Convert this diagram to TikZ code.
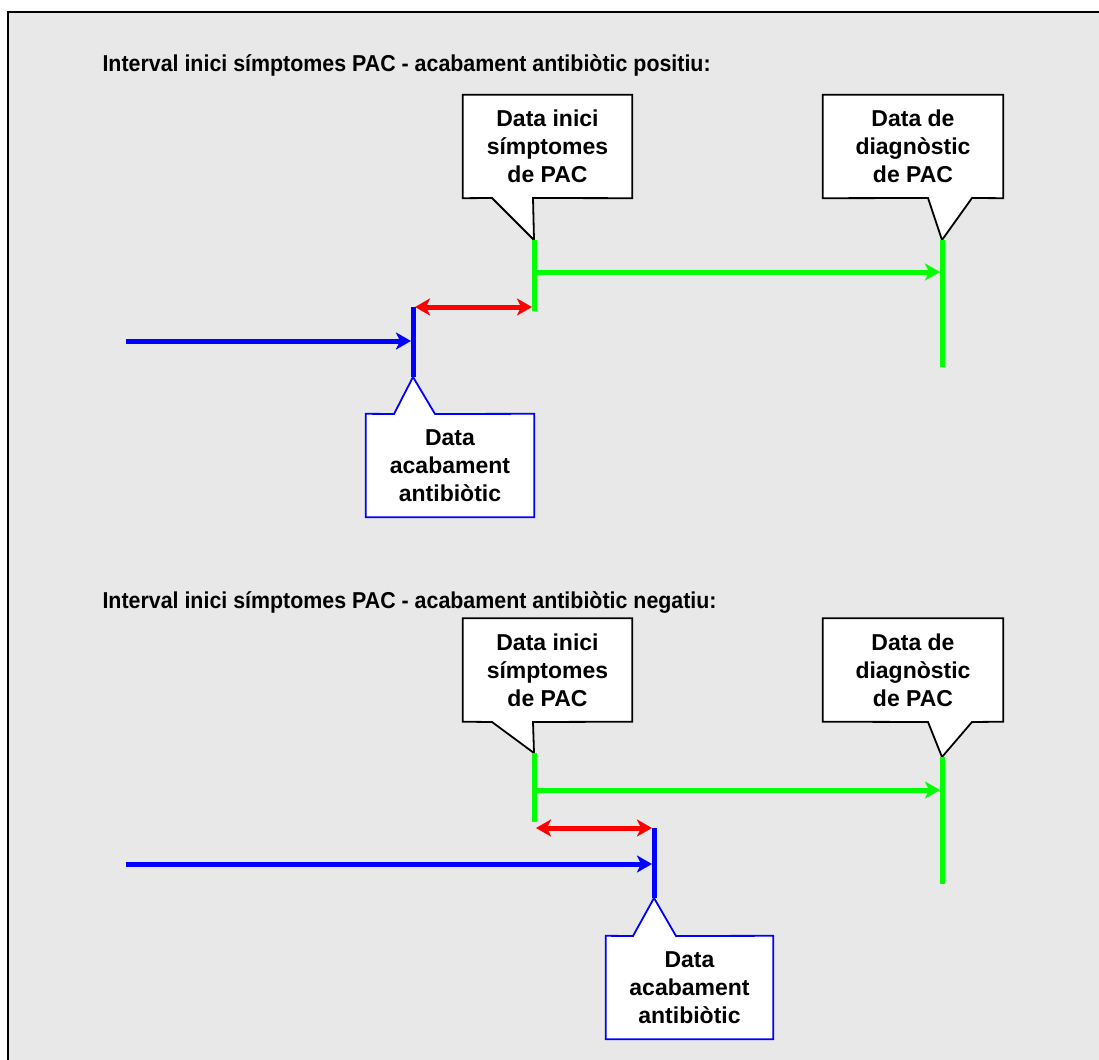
\documentclass[tikz,border=0pt]{standalone}
\usepackage{fontspec}
\setmainfont{Liberation Sans}
\newfontfamily\headfont{Liberation Sans}[FakeStretch=0.93]
\usetikzlibrary{arrows.meta}

\definecolor{panelgray}{RGB}{232,232,232}
\definecolor{datagreen}{RGB}{0,255,0}
\definecolor{datablue}{RGB}{0,0,255}
\definecolor{datared}{RGB}{255,0,0}

\tikzset{
  timeline/.style={line width=5pt},
  arrowend/.style={-{Stealth[length=15pt,width=17pt,inset=4pt]}},
  gapline/.style={datared, line width=5pt,
    {Stealth[length=15pt,width=17pt,inset=4pt]}-{Stealth[length=15pt,width=17pt,inset=4pt]}},
  datebox/.style={fill=white, inner sep=0pt, minimum height=103pt, align=center},
  boxline/.style={line width=1.8pt, line join=miter},
  heading/.style={anchor=base west, font=\headfont\bfseries\fontsize{23}{28}\selectfont},
}

\begin{document}
\begin{tikzpicture}[x=1pt, y=-1pt,
  every node/.style={font=\bfseries\fontsize{23}{28}\selectfont}]
\useasboundingbox (0,0) rectangle (1099,1059);
\clip (0,0) rectangle (1099,1059);
\draw[line width=2.2pt, fill=panelgray] (8,12) rectangle (1120,1080);

% ---- positiu ----
\node[heading] (tit1) at (99,72) {Interval inici símptomes PAC - acabament antibiòtic positiu:};

\coordinate (ini1top) at (534,240);
\coordinate (ini1bot) at (534,311);
\coordinate (ini1mid) at (534,272);
\coordinate (dia1top) at (942,240);
\coordinate (dia1bot) at (942,367);
\coordinate (dia1mid) at (942,272);
\coordinate (ab1top) at (413,307);
\coordinate (ab1bot) at (413,377);
\coordinate (ab1mid) at (413,341);
\coordinate (ab1start) at (126,341);

\node[datebox, minimum width=169pt] (ini1) at (547.5,146.5) {Data inici\\símptomes\\de PAC};
\fill[white] (492,198) -- (ini1top) -- (533,198) -- cycle;
\draw[boxline] (ini1.south west) -- (492,198) -- (ini1top) -- (533,198) -- (ini1.south east)
  -- (ini1.north east) -- (ini1.north west) -- cycle;

\node[datebox, minimum width=180pt] (dia1) at (913,146.5) {Data de\\diagnòstic\\de PAC};
\fill[white] (928,198) -- (dia1top) -- (972,198) -- cycle;
\draw[boxline] (dia1.south west) -- (928,198) -- (dia1top) -- (972,198) -- (dia1.south east)
  -- (dia1.north east) -- (dia1.north west) -- cycle;

\node[datebox, minimum width=168pt] (ab1) at (450,465.5) {Data\\acabament\\antibiòtic};
\fill[white] (394,414) -- (ab1bot) -- (435,414) -- cycle;
\draw[boxline, datablue] (ab1.north west) -- (394,414) -- (ab1bot) -- (435,414) -- (ab1.north east)
  -- (ab1.south east) -- (ab1.south west) -- cycle;

\draw[timeline, datagreen] (ini1top) -- (ini1bot);
\draw[timeline, datagreen] (dia1top) -- (dia1bot);
\draw[timeline, datagreen, arrowend] (ini1mid) -- ([xshift=-2pt]dia1mid);
\draw[timeline, datablue] (ab1top) -- (ab1bot);
\draw[timeline, datablue, arrowend] (ab1start) -- ([xshift=-2pt]ab1mid);
\draw[gapline] ([xshift=2pt]ab1top) -- ([xshift=-2pt]ini1top |- ab1top);

% ---- negatiu ----
\node[heading] (tit2) at (99,608) {Interval inici símptomes PAC - acabament antibiòtic negatiu:};

\coordinate (ini2top) at (534,753);
\coordinate (ini2bot) at (534,822);
\coordinate (ini2mid) at (534,790);
\coordinate (dia2top) at (942,757);
\coordinate (dia2bot) at (942,884);
\coordinate (dia2mid) at (942,790);
\coordinate (ab2top) at (654,828);
\coordinate (ab2bot) at (654,898);
\coordinate (ab2mid) at (654,864);
\coordinate (ab2start) at (126,864);

\node[datebox, minimum width=169pt] (ini2) at (547.5,670) {Data inici\\símptomes\\de PAC};
\fill[white] (492,722) -- (ini2top) -- (533,722) -- cycle;
\draw[boxline] (ini2.south west) -- (492,722) -- (ini2top) -- (533,722) -- (ini2.south east)
  -- (ini2.north east) -- (ini2.north west) -- cycle;

\node[datebox, minimum width=180pt] (dia2) at (913,670) {Data de\\diagnòstic\\de PAC};
\fill[white] (928,722) -- (dia2top) -- (972,722) -- cycle;
\draw[boxline] (dia2.south west) -- (928,722) -- (dia2top) -- (972,722) -- (dia2.south east)
  -- (dia2.north east) -- (dia2.north west) -- cycle;

\node[datebox, minimum width=167pt] (ab2) at (689.5,987.5) {Data\\acabament\\antibiòtic};
\fill[white] (633,936) -- (ab2bot) -- (676,936) -- cycle;
\draw[boxline, datablue] (ab2.north west) -- (633,936) -- (ab2bot) -- (676,936) -- (ab2.north east)
  -- (ab2.south east) -- (ab2.south west) -- cycle;

\draw[timeline, datagreen] (ini2top) -- (ini2bot);
\draw[timeline, datagreen] (dia2top) -- (dia2bot);
\draw[timeline, datagreen, arrowend] (ini2mid) -- ([xshift=-2pt]dia2mid);
\draw[timeline, datablue] (ab2top) -- (ab2bot);
\draw[timeline, datablue, arrowend] (ab2start) -- ([xshift=-2pt]ab2mid);
\draw[gapline] ([xshift=2pt]ini2bot |- ab2top) -- ([xshift=-2pt]ab2top);
\end{tikzpicture}
\end{document}
